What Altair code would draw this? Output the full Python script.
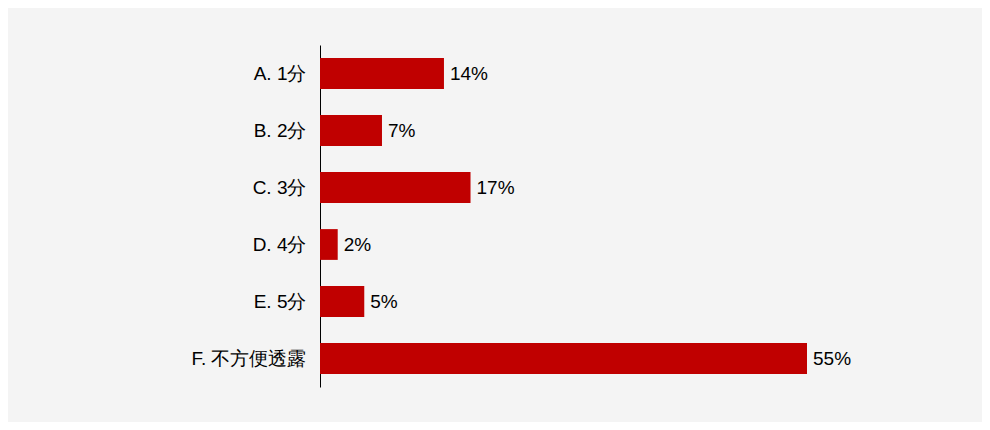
import altair as alt
import pandas as pd

categories = ["A. 1分", "B. 2分", "C. 3分", "D. 4分", "E. 5分", "F. 不方便透露"]
values = [14, 7, 17, 2, 5, 55]
labels = ["14%", "7%", "17%", "2%", "5%", "55%"]

df = pd.DataFrame({"cat": categories, "val": values, "lab": labels})

font = "Liberation Sans"

y = alt.Y("cat:N", sort=categories, title=None,
          scale=alt.Scale(paddingInner=0.46, paddingOuter=0.23),
          axis=alt.Axis(domain=True, domainColor="#000000", domainWidth=1,
                        ticks=False, labelPadding=14, labelFontSize=19,
                        labelFont=font, labelColor="#000000", grid=False))
x = alt.X("val:Q", title=None, scale=alt.Scale(domain=[0, 55], nice=False, zero=True),
          axis=None)

bars = alt.Chart(df).mark_bar(color="#c00000").encode(x=x, y=y)
text = alt.Chart(df).mark_text(align="left", baseline="middle", dx=6, fontSize=19,
                               font=font, color="#000000").encode(x=x, y=y, text="lab:N")

chart = (bars + text).properties(
    width=487, height=342,
    background="#f4f4f4",
    autosize=alt.AutoSizeParams(type="none"),
    padding={"left": 312, "top": 37, "right": 175, "bottom": 35},
).configure_view(stroke=None)

chart.save("out.html", embed_options={"renderer": "svg", "actions": False})
